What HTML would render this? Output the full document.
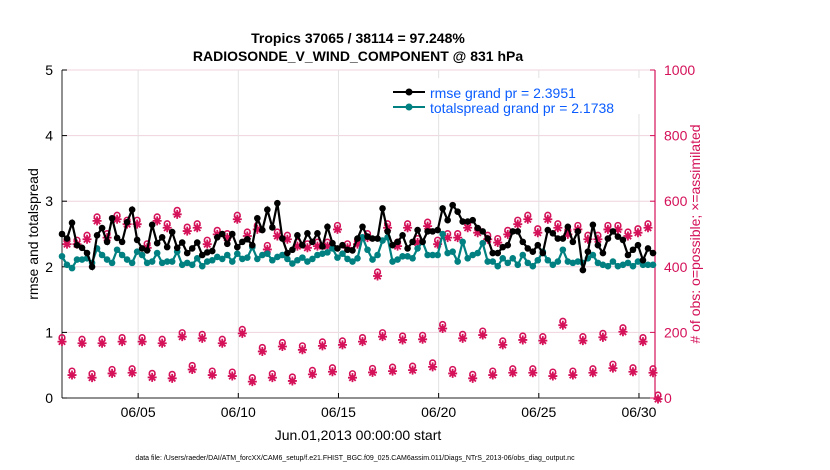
<!DOCTYPE html>
<html><head><meta charset="utf-8"><style>
body{margin:0;background:#fff;font-family:"Liberation Sans",sans-serif}
svg{display:block}
</style></head><body>
<svg id="chart" width="830" height="470" xmlns="http://www.w3.org/2000/svg">
<rect width="830" height="470" fill="#fff"/>
<text x="358" y="43" text-anchor="middle" font-size="14" font-weight="bold">Tropics 37065 / 38114 = 97.248%</text>
<text x="358" y="61" text-anchor="middle" font-size="14" font-weight="bold">RADIOSONDE_V_WIND_COMPONENT @ 831 hPa</text>
<g id="grid"></g>
<g id="axes"></g>
<g id="obs"></g>
<g id="lines"></g>
<text transform="translate(38,234) rotate(-90)" text-anchor="middle" font-size="14">rmse and totalspread</text>
<text transform="translate(700,234) rotate(-90)" text-anchor="middle" font-size="14" fill="#d41159"># of obs: o=possible; ×=assimilated</text>
<text x="358" y="440" text-anchor="middle" font-size="14">Jun.01,2013 00:00:00 start</text>
<text x="355" y="460" text-anchor="middle" font-size="7">data file: /Users/raeder/DAI/ATM_forcXX/CAM6_setup/f.e21.FHIST_BGC.f09_025.CAM6assim.011/Diags_NTrS_2013-06/obs_diag_output.nc</text>
<g id="legend">
<rect x="388" y="78" width="258" height="36" fill="#fff"/>
<line x1="393" y1="92" x2="425" y2="92" stroke="#000" stroke-width="2"/><circle cx="409" cy="92" r="3.5" fill="#000"/>
<text x="430" y="98" font-size="14" fill="#0a5cff">rmse grand pr = 2.3951</text>
<line x1="393" y1="107" x2="425" y2="107" stroke="#008080" stroke-width="2"/><circle cx="409" cy="107" r="3.5" fill="#008080"/>
<text x="430" y="113" font-size="14" fill="#0a5cff">totalspread grand pr = 2.1738</text>
</g>
</svg>
<script>
const rmse=[2.5,2.43,2.67,2.33,2.29,2.21,2.0,2.48,2.59,2.38,2.74,2.44,2.38,2.68,2.87,2.41,2.28,2.25,2.64,2.36,2.45,2.3,2.53,2.29,2.37,2.21,2.28,2.37,2.18,2.22,
2.24,2.45,2.5,2.35,2.5,2.3,2.38,2.42,2.33,2.74,2.56,2.87,2.6,2.97,2.43,2.21,2.26,2.48,2.33,2.51,2.38,2.51,2.31,2.61,2.36,2.28,2.33,2.26,2.25,
2.43,2.61,2.46,2.43,2.43,2.89,2.54,2.33,2.38,2.48,2.28,2.38,2.56,2.38,2.54,2.54,2.56,2.89,2.71,2.94,2.84,2.69,2.69,2.71,2.59,2.54,2.43,2.21,2.21,2.3,
2.33,2.54,2.54,2.38,2.28,2.23,2.33,2.21,2.56,2.51,2.43,2.43,2.61,2.38,2.54,1.95,2.23,2.64,2.33,2.21,2.43,2.54,2.46,2.41,2.18,2.26,2.33,2.1,2.28,2.21];
const spread=[2.16,2.03,1.98,2.11,2.11,2.13,2.06,2.28,2.18,2.11,2.06,2.26,2.18,2.11,2.06,2.23,2.18,2.06,2.08,2.21,2.06,2.08,2.08,2.23,2.03,2.06,2.03,2.13,2.01,2.08,
2.1,2.15,2.12,2.18,2.08,2.2,2.12,2.14,2.3,2.12,2.18,2.2,2.1,2.15,2.18,2.12,2.05,2.1,2.14,2.08,2.12,2.18,2.2,2.22,2.28,2.14,2.2,2.12,2.08,
2.13,2.45,2.26,2.11,2.18,2.4,2.45,2.08,2.11,2.16,2.16,2.13,2.28,2.38,2.18,2.18,2.18,2.5,2.21,2.23,2.08,2.38,2.13,2.18,2.21,2.36,2.08,2.08,2.01,2.13,
2.06,2.13,2.03,2.18,2.06,2.01,2.1,2.23,2.1,2.03,2.08,2.26,2.08,2.06,2.08,2.06,2.13,2.18,2.06,2.03,2.01,2.08,2.01,2.03,2.06,2.01,2.08,2.03,2.03,2.03];
const obsHigh=[175,170,170,175,175,170,190,185,170,200,145,160,150,162,165,175,190,180,182,215,185,195,165,180,178,225,178,188,205,175];
const obsLow=[73,65,78,80,66,63,90,73,70,53,65,55,75,83,65,81,85,88,98,78,63,73,80,80,70,73,80,94,83,80];
const obsMid=[472,472,487,543,492,548,533,533,461,543,522,563,512,522,472,
502,492,548,497,517,456,497,487,466,461,466,466,517,461,
472,492,375,522,466,522,477,527,472,492,492,522,507,487,477,502,
533,548,507,548,522,502,517,487,487,517,517,497,507,522,0];
const xTickDays=[5,10,15,20,25,30];
const xTickLabels=["06/05","06/10","06/15","06/20","06/25","06/30"];
const leftTicks=[0,1,2,3,4,5];
const rightTicks=[0,200,400,600,800,1000];
const T0=1.2,STEP=0.25;
const X0=62,X1=655,Y0=398,Y1=70,DMIN=1.2,DMAX=30.8;
const PINK="#d41159";
const xs=d=>X0+(d-DMIN)/(DMAX-DMIN)*(X1-X0);
const yl=v=>Y0-v/5*(Y0-Y1);
const yr=v=>Y0-v/1000*(Y0-Y1);
const NS="http://www.w3.org/2000/svg";
function mk(tag,attrs,parent){const e=document.createElementNS(NS,tag);for(const k in attrs)e.setAttribute(k,attrs[k]);parent.appendChild(e);return e;}
const grid=document.getElementById('grid'),axes=document.getElementById('axes'),obsG=document.getElementById('obs'),lines=document.getElementById('lines');
rightTicks.forEach(v=>{if(v===0)return;const l=mk('line',{x1:X0,x2:X1,y1:yr(v),y2:yr(v),stroke:'#f0d3de','stroke-width':1},grid);

});
xTickDays.forEach((d,i)=>{const l=mk('line',{x1:xs(d),x2:xs(d),y1:Y1,y2:Y0,stroke:'#e2e2e2','stroke-width':1},grid);


const t=mk('text',{x:xs(d),y:417,'text-anchor':'middle','font-size':14},axes);t.textContent=xTickLabels[i];


mk('line',{x1:xs(d),x2:xs(d),y1:Y0,y2:Y0-5,stroke:'#000'},axes);});
mk('line',{x1:X0,x2:X0,y1:Y1,y2:Y0,stroke:'#222','stroke-width':1},axes);
mk('line',{x1:X0,x2:X1,y1:Y0,y2:Y0,stroke:'#222','stroke-width':1},axes);
mk('line',{x1:X1,x2:X1,y1:Y1,y2:Y0,stroke:PINK,'stroke-width':1.2},axes);
leftTicks.forEach(v=>{mk('line',{x1:X0,x2:X0+5,y1:yl(v),y2:yl(v),stroke:'#000'},axes);
const t=mk('text',{x:X0-9,y:yl(v)+5,'text-anchor':'end','font-size':14},axes);t.textContent=v;

});
rightTicks.forEach(v=>{mk('line',{x1:X1,x2:X1-5,y1:yr(v),y2:yr(v),stroke:PINK},axes);
const t=mk('text',{x:X1+9,y:yr(v)+5,'text-anchor':'start','font-size':14,fill:PINK},axes);t.textContent=v;

});
function obsAt(i){if(i%2===1)return obsMid[(i-1)/2];if(i%4===0)return obsHigh[i/4];return obsLow[(i-2)/4];}
for(let i=0;i<120;i++){const v=obsAt(i);if(v===undefined)continue;const x=xs(T0+i*STEP),y=yr(v);
const c=mk('circle',{cx:x,cy:y-3,r:2.8,fill:'none',stroke:PINK,'stroke-width':1.6},obsG);


const s=mk('path',{d:`M${x-4.5},${y+1}h9M${x},${y-3.5}v9M${x-3.2},${y-2.2}l6.4,6.4M${x+3.2},${y-2.2}l-6.4,6.4`,stroke:PINK,'stroke-width':1.8},obsG);

}
function series(arr,color,name){const pts=arr.map((v,i)=>[xs(T0+i*STEP),yl(v)]);
const p=mk('polyline',{points:pts.map(p=>p.join(',')).join(' '),fill:'none',stroke:color,'stroke-width':2.2},lines);


pts.forEach(q=>{const c=mk('circle',{cx:q[0],cy:q[1],r:3.3,fill:color},lines);

});}
series(spread,'#008080','totalspread');
series(rmse,'#000','rmse');
</script>
</body></html>
